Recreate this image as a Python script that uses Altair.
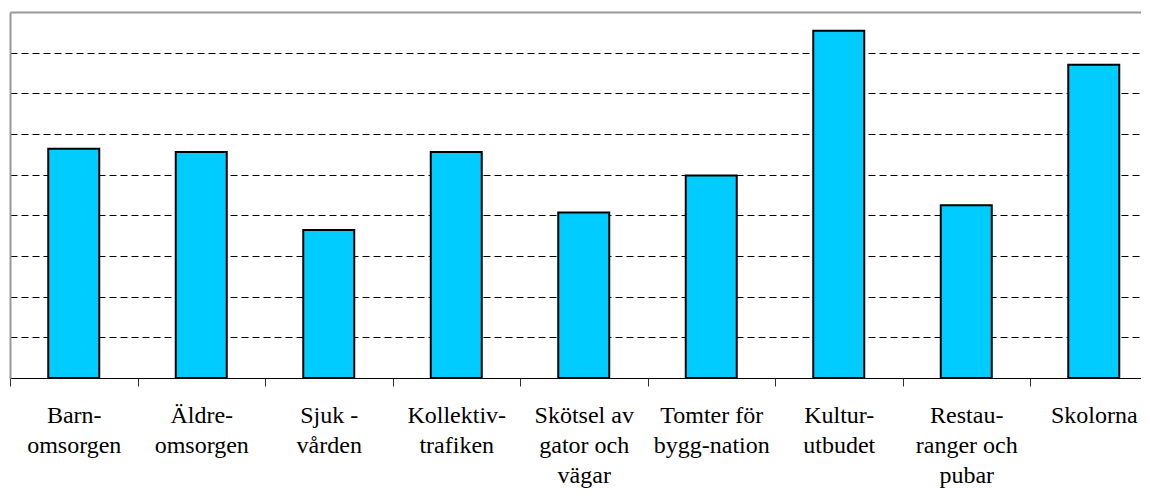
import altair as alt
import pandas as pd

categories = [
    "Barn-\nomsorgen",
    "Äldre-\nomsorgen",
    "Sjuk -\nvården",
    "Kollektiv-\ntrafiken",
    "Skötsel av\ngator och\nvägar",
    "Tomter för\nbygg-nation",
    "Kultur-\nutbudet",
    "Restau-\nranger och\npubar",
    "Skolorna",
]
values = [5.64, 5.56, 3.64, 5.56, 4.07, 4.98, 8.54, 4.25, 7.70]

df = pd.DataFrame({"cat": categories, "val": values})

FONT = "Times New Roman"

chart = alt.Chart(df).mark_bar(
    color="#00CCFF", stroke="black", strokeWidth=2, width=alt.RelativeBandSize(0.4)
).encode(
    x=alt.X(
        "cat:N",
        sort=categories,
        title=None,
        scale=alt.Scale(range=[0, 1147.5], paddingInner=0, paddingOuter=0),
        axis=alt.Axis(
            labelAngle=0,
            labelExpr="split(datum.label, '\\n')",
            labelFont=FONT,
            labelFontSize=24,
            labelColor="black",
            labelLineHeight=30,
            labelBaseline="top",
            labelPadding=17,
            labelLimit=300,
            tickBand="extent",
            tickSize=8,
            tickColor="#333333",
            domainColor="black",
            domainWidth=1,
            grid=False,
        ),
    ),
    y=alt.Y(
        "val:Q",
        title=None,
        scale=alt.Scale(domain=[0, 9], nice=False),
        axis=alt.Axis(
            values=[1, 2, 3, 4, 5, 6, 7, 8, 9],
            labels=False,
            ticks=False,
            domainColor="#999999",
            domainWidth=2,
            grid=True,
            gridColor=alt.condition("datum.value == 9", alt.value("#999999"), alt.value("black")),
            gridDash=alt.condition("datum.value == 9", alt.value([]), alt.value([7, 4])),
            gridWidth=alt.condition("datum.value == 9", alt.value(2), alt.value(1)),
        ),
    ),
).properties(
    width=1131,
    height=366,
    autosize=alt.AutoSizeParams(type="none"),
    padding={"left": 2, "top": 4, "right": 0, "bottom": 112},
).configure(
    font=FONT
).configure_axis(
    labelFont=FONT
).configure_view(
    strokeWidth=0
)

chart.save("out.html", embed_options={"renderer": "svg", "actions": False})
